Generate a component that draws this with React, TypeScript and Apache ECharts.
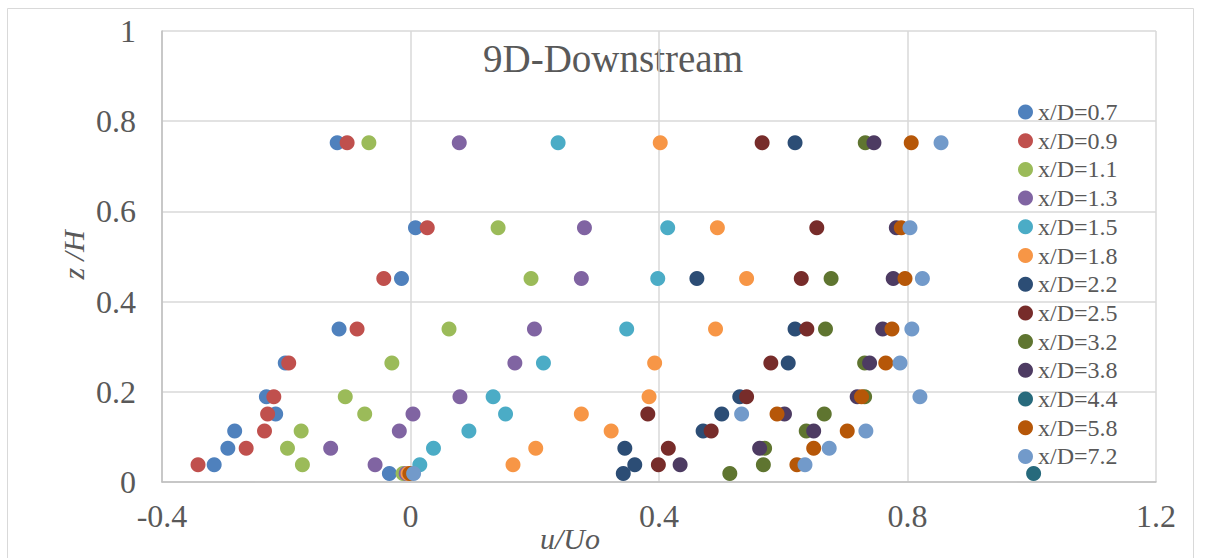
import React, { useEffect, useRef } from "react";
import * as echarts from "echarts";

const seriesNames = [
  "x/D=0.7", "x/D=0.9", "x/D=1.1", "x/D=1.3", "x/D=1.5", "x/D=1.8", "x/D=2.2",
  "x/D=2.5", "x/D=3.2", "x/D=3.8", "x/D=4.4", "x/D=5.8", "x/D=7.2",
];
const seriesColors = [
  "#4F81BD", "#C0504D", "#9BBB59", "#8064A2", "#4BACC6", "#F79646", "#2C4D75",
  "#772C2A", "#5F7530", "#4D3B62", "#276A7C", "#B65708", "#729ACA",
];
// z/H levels
const zLevels = [0.752, 0.564, 0.451, 0.339, 0.264, 0.189, 0.151, 0.113, 0.075, 0.038, 0.019];
// u/Uo for each series at each z level (null = no point)
const u07 = [-0.118, 0.008, -0.0145, -0.115, -0.2016, -0.232, -0.217, -0.283, -0.294, -0.316, -0.034];
const u09 = [-0.102, 0.027, -0.043, -0.086, -0.196, -0.22, -0.23, -0.235, -0.2645, -0.342, null];
const u11 = [-0.067, 0.141, 0.194, 0.062, -0.03, -0.105, -0.0737, -0.176, -0.198, -0.174, -0.012];
const u13 = [0.0785, 0.28, 0.275, 0.1995, 0.168, 0.0796, 0.004, -0.018, -0.1285, -0.057, -0.007];
const u15 = [0.2376, 0.414, 0.398, 0.348, 0.214, 0.133, 0.153, 0.094, 0.037, 0.015, null];
const u18 = [0.402, 0.494, 0.541, 0.491, 0.393, 0.384, 0.275, 0.323, 0.2016, 0.165, -0.004];
const u22 = [0.619, null, 0.461, 0.619, 0.608, 0.53, 0.501, 0.471, 0.345, 0.361, 0.3425];
const u25 = [0.566, 0.654, 0.629, 0.638, 0.58, 0.541, 0.382, 0.484, 0.415, 0.399, null];
const u32 = [0.732, null, 0.677, 0.668, 0.731, 0.731, 0.666, 0.637, 0.57, 0.568, 0.514];
const u38 = [0.746, 0.782, 0.777, 0.76, 0.739, 0.719, 0.602, 0.649, 0.562, 0.434, null];
const u44 = [null, null, null, null, null, null, null, null, null, null, 1.003];
const u58 = [0.806, 0.79, 0.796, 0.775, 0.765, 0.726, 0.59, 0.703, 0.649, 0.622, -0.001];
const u72 = [0.854, 0.804, 0.824, 0.807, 0.788, 0.82, 0.533, 0.733, 0.674, 0.635, 0.005];
const allU = [u07, u09, u11, u13, u15, u18, u22, u25, u32, u38, u44, u58, u72];

const titleText = "9D-Downstream";
const xName = "u/Uo";
const yName = "z /H";

const FONT = "Liberation Serif";
const TXT = "#595959";

const fmt = (v: number) => (Math.abs(v) < 1e-9 ? "0" : String(Math.round(v * 10) / 10));

export default function App() {
  const ref = useRef<HTMLDivElement>(null);
  useEffect(() => {
    if (!ref.current) return;
    const chart = echarts.init(ref.current, null, { renderer: "svg" });
    const series = seriesNames.map((name, i) => ({
      name,
      type: "scatter",
      symbol: "circle",
      symbolSize: 15,
      itemStyle: { color: seriesColors[i], opacity: 1 },
      data: allU[i]
        .map((u, k) => (u === null ? null : [u, zLevels[k]]))
        .filter((d) => d !== null),
    }));
    chart.setOption({
      animation: false,
      backgroundColor: "#ffffff",
      grid: { left: 162, right: 49, top: 31, bottom: 76 },
      xAxis: {
        type: "value",
        min: -0.4,
        max: 1.2,
        interval: 0.4,
        axisLine: { show: true, onZero: false, lineStyle: { color: "#bfbfbf", width: 1.5 } },
        axisTick: { show: false },
        splitLine: { show: true, lineStyle: { color: "#d9d9d9", width: 1.5 } },
        axisLabel: { color: TXT, fontFamily: FONT, fontSize: 32, margin: 18, formatter: fmt },
      },
      yAxis: {
        type: "value",
        min: 0,
        max: 1,
        interval: 0.2,
        axisLine: { show: true, onZero: false, lineStyle: { color: "#bfbfbf", width: 1.5 } },
        axisTick: { show: false },
        splitLine: { show: true, lineStyle: { color: "#d9d9d9", width: 1.5 } },
        axisLabel: { color: TXT, fontFamily: FONT, fontSize: 32, margin: 26, formatter: fmt },
      },
      legend: {
        orient: "vertical",
        left: 1013,
        top: 95,
        itemWidth: 15,
        itemHeight: 15,
        itemGap: 4.7,
        itemTextGap: 4,
        icon: "circle",
        data: seriesNames,
        textStyle: { color: TXT, fontFamily: FONT, fontSize: 24, lineHeight: 24 },
      },
      graphic: [
        {
          type: "rect",
          shape: { x: 7.5, y: 8.5, width: 1186, height: 570 },
          style: { fill: "none", stroke: "#d9d9d9", lineWidth: 1 },
          silent: true,
          z: -10,
        },
        {
          type: "text",
          x: 613,
          y: 58,
          style: {
            text: titleText,
            fill: TXT,
            fontFamily: FONT,
            fontSize: 39,
            align: "center",
            verticalAlign: "middle",
          },
        },
        {
          type: "text",
          x: 570,
          y: 538,
          style: {
            text: xName,
            fill: TXT,
            fontFamily: FONT,
            fontStyle: "italic",
            fontSize: 30,
            align: "center",
            verticalAlign: "middle",
          },
        },
        {
          type: "text",
          x: 73,
          y: 255,
          rotation: Math.PI / 2,
          style: {
            text: yName,
            fill: TXT,
            fontFamily: FONT,
            fontStyle: "italic",
            fontSize: 30,
            align: "center",
            verticalAlign: "middle",
          },
        },
      ],
      series,
    });
    return () => chart.dispose();
  }, []);
  return (
    <div
      ref={ref}
      style={{ position: "absolute", left: 0, top: 0, width: 1205, height: 558 }}
    />
  );
}
